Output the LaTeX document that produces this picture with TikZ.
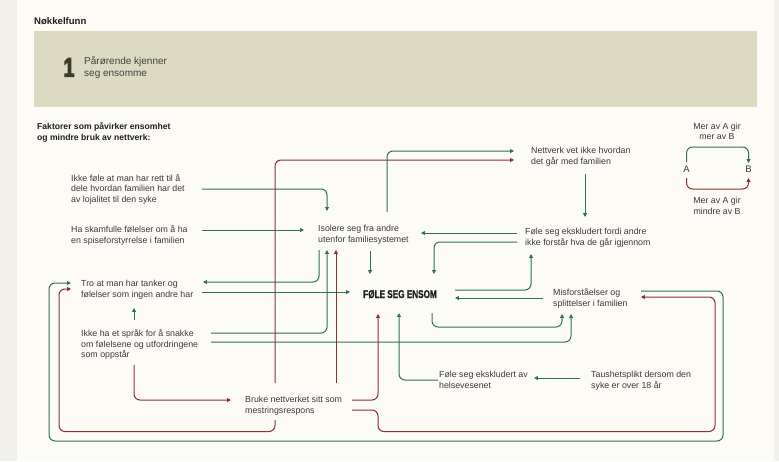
\documentclass[tikz,border=0pt]{standalone}
\usepackage{fontspec}
\setmainfont{Liberation Sans}
\newfontfamily\condfont{Liberation Sans}[UprightFont={* Bold}, FakeStretch=0.73, FakeBold=1.2]
\newfontfamily\numfont{Liberation Sans}[UprightFont={* Bold}, FakeStretch=0.72, FakeBold=4]
\usetikzlibrary{arrows.meta}

\definecolor{paper}{HTML}{FDFBF6}
\definecolor{margin}{HTML}{F2F0EB}
\definecolor{olive}{HTML}{DCDAC1}
\definecolor{ink}{HTML}{3A3A3A}
\definecolor{darkink}{HTML}{1F1F1F}
\definecolor{numink}{HTML}{3B3B28}
\definecolor{pos}{HTML}{2B7550}
\definecolor{neg}{HTML}{8C2F2F}

\newcommand{\bodyfont}{\fontsize{8.8}{10.7}\selectfont}
% stacked lines whose baseline is the first line
\newcommand{\leftlines}[1]{\begin{tabular}[t]{@{}l@{}}#1\end{tabular}}
\newcommand{\midlines}[1]{\begin{tabular}[t]{@{}c@{}}#1\end{tabular}}

\tikzset{
  lbl/.style={anchor=base west, inner sep=0pt, font=\bodyfont, text=ink},
  clbl/.style={anchor=base, inner sep=0pt, font=\fontsize{8.8}{10.4}\selectfont, text=ink},
  link/.style={line width=1pt, rounded corners=6pt,
    -{Triangle[length=3.8pt,width=3.8pt]}},
  plus/.style={link, draw=pos},
  minus/.style={link, draw=neg},
}

\begin{document}
\begin{tikzpicture}[x=1pt, y=-1pt]
  \useasboundingbox (0,0) rectangle (779,461);
  % page and side margins
  \fill[paper] (0,0) rectangle (779,461);
  \fill[margin] (0,0) rectangle (17,461);
  \fill[margin] (774,0) rectangle (779,461);

  % heading and finding banner
  \node[anchor=base west, inner sep=0pt, font=\fontsize{9.6}{11}\selectfont\bfseries, text=darkink]
    (head) at (34,24) {Nøkkelfunn};
  \fill[olive] (34,31) rectangle (757,107);
  \node[anchor=base west, inner sep=0pt, font=\numfont\fontsize{26.5}{26.5}\selectfont, text=numink]
    (num) at (63.5,76.5) {1};
  \node[anchor=base west, inner sep=0pt, font=\fontsize{10}{12.1}\selectfont, text=darkink!85]
    (finding) at (84,64.4) {\leftlines{Pårørende kjenner\\seg ensomme}};

  \node[anchor=base west, inner sep=0pt, font=\fontsize{8.6}{11}\selectfont\bfseries, text=darkink]
    (intro) at (37,129) {\leftlines{Faktorer som påvirker ensomhet\\og mindre bruk av nettverk:}};

  % factors
  \node[lbl] (rett) at (71,181) {\leftlines{Ikke føle at man har rett til å\\dele hvordan familien har det\\av lojalitet til den syke}};
  \node[lbl] (skam) at (71,232.3) {\leftlines{Ha skamfulle følelser om å ha\\en spiseforstyrrelse i familien}};
  \node[lbl] (tanker) at (81,286.3) {\leftlines{Tro at man har tanker og\\følelser som ingen andre har}};
  \node[lbl] (sprak) at (81,336.3) {\leftlines{Ikke ha et språk for å snakke\\om følelsene og utfordringene\\som oppstår}};
  \node[lbl] (bruke) at (245,402.3) {\leftlines{Bruke nettverket sitt som\\mestringsrespons}};
  \node[lbl] (iso) at (318,231.7) {\leftlines{Isolere seg fra andre\\utenfor familiesystemet}};
  \node[anchor=base west, inner sep=0pt, font=\condfont\fontsize{11.2}{12}\selectfont, text=darkink]
    (ensom) at (363,298) {FØLE SEG ENSOM};
  \node[lbl] (nett) at (531,153.7) {\leftlines{Nettverk vet ikke hvordan\\det går med familien}};
  \node[lbl] (eks) at (525,234.3) {\leftlines{Føle seg ekskludert fordi andre\\ikke forstår hva de går igjennom}};
  \node[lbl] (mis) at (553,295.7) {\leftlines{Misforståelser og\\splittelser i familien}};
  \node[lbl] (helse) at (439,377.3) {\leftlines{Føle seg ekskludert av\\helsevesenet}};
  \node[lbl] (taus) at (591,377.3) {\leftlines{Taushetsplikt dersom den\\syke er over 18 år}};

  % legend
  \node[clbl] (legpos) at (717,129) {\midlines{Mer av A gir\\mer av B}};
  \node[clbl] (legneg) at (717,203.7) {\midlines{Mer av A gir\\mindre av B}};
  \node[anchor=base, inner sep=0pt, font=\fontsize{9.5}{11}\selectfont, text=ink] (A) at (686.5,172.5) {A};
  \node[anchor=base, inner sep=0pt, font=\fontsize{9.5}{11}\selectfont, text=ink] (B) at (748.5,172.5) {B};

  % ports where connectors meet the texts
  \coordinate (rett-o) at (202,189);
  \coordinate (skam-o) at (202,230);
  \coordinate (tanker-o) at (202,292);
  \coordinate (tanker-i) at (203,282);
  \coordinate (tanker-ig) at (71,283);
  \coordinate (tanker-ir) at (71,289);
  \coordinate (tanker-b) at (134,308);
  \coordinate (sprak-t) at (134,320);
  \coordinate (sprak-b) at (134,365);
  \coordinate (sprak-o1) at (211,333);
  \coordinate (sprak-o2) at (211,342);
  \coordinate (bruke-i) at (231,400);
  \coordinate (bruke-t1) at (275,383);
  \coordinate (bruke-t2) at (336,383);
  \coordinate (bruke-b) at (275,420);
  \coordinate (bruke-o1) at (352,400);
  \coordinate (bruke-o2) at (352,410);
  \coordinate (iso-n) at (327,211);
  \coordinate (iso-w) at (304,230);
  \coordinate (iso-e) at (421,233);
  \coordinate (iso-sw) at (319,250);
  \coordinate (iso-s1) at (327,250);
  \coordinate (iso-s2) at (336,250);
  \coordinate (iso-s3) at (370,251);
  \coordinate (iso-ne) at (387,212);
  \coordinate (ensom-w) at (350,292);
  \coordinate (ensom-n1) at (370,274);
  \coordinate (ensom-n2) at (434,274);
  \coordinate (ensom-e1) at (455,290);
  \coordinate (ensom-e2) at (455,298);
  \coordinate (ensom-s1) at (378,314);
  \coordinate (ensom-s2) at (399,313);
  \coordinate (ensom-s3) at (432,313);
  \coordinate (nett-w1) at (514,151);
  \coordinate (nett-w2) at (514,160);
  \coordinate (nett-s) at (585,174);
  \coordinate (eks-n) at (585,217);
  \coordinate (eks-w1) at (517,233);
  \coordinate (eks-w2) at (517,242);
  \coordinate (eks-s) at (531,254);
  \coordinate (mis-w) at (543,298);
  \coordinate (mis-e1) at (641,291);
  \coordinate (mis-e2) at (641,297);
  \coordinate (mis-s1) at (562,314);
  \coordinate (mis-s2) at (571,314);
  \coordinate (helse-w) at (438,380);
  \coordinate (helse-e) at (534,378);
  \coordinate (taus-w) at (580,378);

  % positive links
  \draw[plus] (rett-o) -| (iso-n);
  \draw[plus] (skam-o) -- (iso-w);
  \draw[plus] (iso-sw) |- (tanker-i);
  \draw[plus] (tanker-o) -- (ensom-w);
  \draw[plus] (sprak-o1) -| (iso-s1);
  \draw[plus] (iso-ne) |- (nett-w1);
  \draw[plus] (iso-s3) -- (ensom-n1);
  \draw[plus] (eks-w2) -| (ensom-n2);
  \draw[plus] (eks-w1) -- (iso-e);
  \draw[plus] (nett-s) -- (eks-n);
  \draw[plus] (ensom-e1) -| (eks-s);
  \draw[plus] (mis-w) -- (ensom-e2);
  \draw[plus] (ensom-s3) -- (432,327) -- (562,327) -- (mis-s1);
  \draw[plus] (sprak-o2) -| (mis-s2);
  \draw[plus] (helse-w) -| (ensom-s2);
  \draw[plus] (mis-e1) -- (723,291) -- (723,441) -- (49,441) -- (49,283) -- (tanker-ig);
  \draw[plus] (sprak-t) -- (tanker-b);
  \draw[plus] (taus-w) -- (helse-e);

  % negative links
  \draw[minus] (bruke-t2) -- (iso-s2);
  \draw[minus] (bruke-t1) |- (nett-w2);
  \draw[minus] (bruke-o1) -| (ensom-s1);
  \draw[minus] (bruke-o2) -- (378,410) -- (378,431.5) -- (715,431.5) -- (715,297) -- (mis-e2);
  \draw[minus] (bruke-b) -- (275,431.5) -- (59,431.5) -- (59,289) -- (tanker-ir);
  \draw[minus] (sprak-b) |- (bruke-i);

  % legend links
  \draw[plus] (686.5,162) -- (686.5,147) -- (748.5,147) -- (748.5,163);
  \draw[minus] (686.5,178) -- (686.5,189) -- (748.5,189) -- (748.5,178);
\end{tikzpicture}
\end{document}
